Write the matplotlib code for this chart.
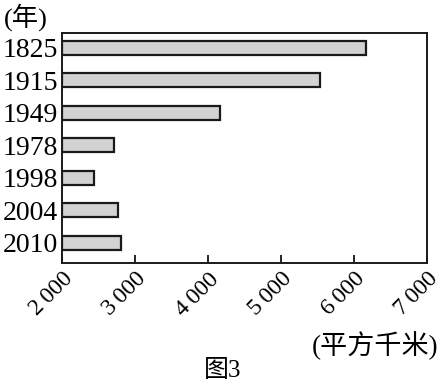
import numpy as np
import matplotlib
matplotlib.use("Agg")
import matplotlib.pyplot as plt

plt.rcParams["font.family"] = ["Liberation Serif", "Noto Sans CJK SC", "DejaVu Sans"]

# 数据
years = ["1825", "1915", "1949", "1978", "1998", "2004", "2010"]
areas = [6160, 5540, 4160, 2710, 2440, 2770, 2815]
xticks = [2000, 3000, 4000, 5000, 6000, 7000]
xtick_labels = ["2\u2009000", "3\u2009000", "4\u2009000", "5\u2009000", "6\u2009000", "7\u2009000"]

fig = plt.figure(figsize=(4.41, 3.84), dpi=100)
ax = fig.add_axes([62 / 441, 1 - 263 / 384, 365 / 441, 230 / 384])

y = np.arange(len(years))
ax.barh(y, np.array(areas) - 2000, left=2000, height=0.43,
        color="#d2d2d2", edgecolor="#1a1a1a", linewidth=1.6)

ax.set_xlim(2000, 7000)
ax.set_ylim(6.62, -0.46)
ax.set_yticks(y)
ax.set_yticklabels(years, fontsize=20)
ax.tick_params(axis="y", length=0, pad=3)
ax.set_xticks(xticks)
ax.set_xticklabels(xtick_labels, fontsize=17, rotation=45, ha="right", va="top",
                   rotation_mode="anchor")
ax.tick_params(axis="x", direction="in", length=6, width=1.2, pad=4)
for s in ax.spines.values():
    s.set_linewidth(1.4)
    s.set_color("#1a1a1a")

fig.text(4 / 441, 1 - 17 / 384, "(年)", fontsize=19, va="center", ha="left")
fig.text(438 / 441, 1 - 346 / 384, "(平方千米)", fontsize=19.5, va="center", ha="right")
fig.text(223 / 441, 1 - 371 / 384, "图3", fontsize=18, va="center", ha="center")

fig.savefig("out.png", dpi=100)
